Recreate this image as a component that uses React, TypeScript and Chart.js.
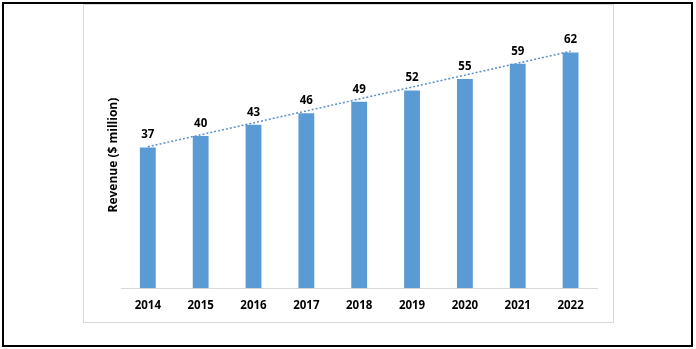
import React, { useEffect, useRef } from "react";
import { Chart, registerables } from "chart.js";

Chart.register(...registerables);

const years = ["2014", "2015", "2016", "2017", "2018", "2019", "2020", "2021", "2022"];
const revenue = [37, 40, 43, 46, 49, 52, 55, 59, 62];
const trendStart = 37.2;
const trendEnd = 62.3;
const yTitle = "Revenue ($ million)";

const FONT = "'Open Sans', 'Liberation Sans', sans-serif";

const framePlugin = {
  id: "frame",
  beforeDraw(chart: any) {
    const ctx = chart.ctx;
    ctx.save();
    ctx.fillStyle = "#ffffff";
    ctx.fillRect(0, 0, chart.width, chart.height);
    ctx.strokeStyle = "#d9d9d9";
    ctx.lineWidth = 1;
    ctx.strokeRect(83.5, 4.5, 530, 318);
    ctx.strokeStyle = "#000000";
    ctx.lineWidth = 2;
    ctx.strokeRect(3, 3, 689, 343);
    ctx.restore();
  },
};

const labelPlugin = {
  id: "barLabels",
  afterDatasetsDraw(chart: any) {
    const ctx = chart.ctx;
    const meta = chart.getDatasetMeta(0);
    ctx.save();
    ctx.font = `bold 11.5px ${FONT}`;
    ctx.fillStyle = "#000000";
    ctx.textAlign = "center";
    ctx.textBaseline = "alphabetic";
    meta.data.forEach((bar: any, i: number) => {
      ctx.fillText(String(chart.data.datasets[0].data[i]), bar.x, bar.y - 9);
    });
    ctx.restore();
  },
};

export default function App() {
  const ref = useRef<HTMLCanvasElement | null>(null);
  useEffect(() => {
    if (!ref.current) return;
    const trend = years.map((_, i) => (i === 0 ? trendStart : i === years.length - 1 ? trendEnd : null));
    const chart = new Chart(ref.current, {
      type: "bar",
      data: {
        labels: years,
        datasets: [
          {
            type: "bar",
            data: revenue,
            backgroundColor: "#5b9bd5",
            barPercentage: 0.3,
            categoryPercentage: 1,
            order: 2,
          } as any,
          {
            type: "line",
            data: trend,
            spanGaps: true,
            borderColor: "#5b8fc9",
            borderWidth: 1.5,
            borderDash: [2, 2],
            pointRadius: 0,
            fill: false,
            order: 1,
          } as any,
        ],
      },
      options: {
        animation: false,
        responsive: false,
        maintainAspectRatio: false,
        events: [],
        layout: { padding: { left: 102, right: 99, top: 22, bottom: 25 } },
        plugins: { legend: { display: false }, tooltip: { enabled: false } },
        scales: {
          x: {
            grid: { display: false, drawTicks: false },
            border: { display: true, color: "#d9d9d9", width: 1 },
            ticks: {
              padding: 11,
              color: "#000000",
              font: { family: FONT, size: 11.5, weight: "bold" },
              maxRotation: 0,
            },
          },
          y: {
            min: 0,
            max: 70,
            grid: { display: false, drawTicks: false },
            border: { display: false },
            ticks: { display: false },
            title: {
              display: true,
              text: yTitle,
              color: "#000000",
              font: { family: FONT, size: 12, weight: "bold" },
              padding: { top: 4, bottom: 1 },
            },
          },
        },
      },
      plugins: [framePlugin, labelPlugin],
    });
    return () => chart.destroy();
  }, []);
  return (
    <div style={{ position: "fixed", left: 0, top: 0, width: 696, height: 349, background: "#fff" }}>
      <canvas ref={ref} width={696} height={349} style={{ width: 696, height: 349, display: "block" }} />
    </div>
  );
}
